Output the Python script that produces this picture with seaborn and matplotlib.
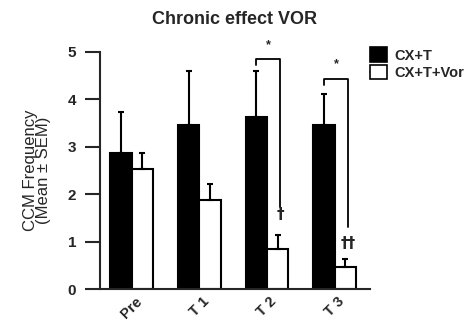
import numpy as np
import pandas as pd
import seaborn as sns
import matplotlib.pyplot as plt
from matplotlib.patches import Patch

# --- Data ---
timepoints = ['Pre', 'T 1', 'T 2', 'T 3']
groups = ['CX+T', 'CX+T+Vor']
mean_cxt = [2.87, 3.45, 3.63, 3.46]
sem_cxt = [0.87, 1.15, 0.96, 0.66]
mean_vor = [2.54, 1.88, 0.85, 0.46]
sem_vor = [0.32, 0.34, 0.29, 0.18]

# significance brackets: (timepoint index, bracket height, left drop, right drop, star y, symbol, symbol y)
BRACKETS = [
    (2, 4.85, 4.72, 1.73, 5.15, '\u2020', 1.57),
    (3, 4.43, 4.30, 1.31, 4.74, '\u2020\u2020', 0.97),
]

sns.set_style('ticks')
plt.rcParams['font.family'] = ['Liberation Sans', 'DejaVu Sans']

df = pd.DataFrame({
    'timepoint': timepoints * 2,
    'group': [groups[0]] * 4 + [groups[1]] * 4,
    'mean': mean_cxt + mean_vor,
    'sem': sem_cxt + sem_vor,
})

fig = plt.figure(figsize=(4.67, 3.27), dpi=100)
ax = fig.add_axes([0.214, 0.116, 0.578, 0.725])

sns.barplot(data=df, x='timepoint', y='mean', hue='group', order=timepoints,
            hue_order=groups, palette=['black', 'white'], edgecolor='black',
            linewidth=1.5, width=0.63, errorbar=None, legend=False, ax=ax)

# upper-only SEM bars, placed at the bar centres seaborn produced
bars = [p for p in ax.patches if p.get_height() > 0]
bars = sorted(bars, key=lambda p: p.get_x())
for p in bars:
    xc = p.get_x() + p.get_width() / 2
    h = p.get_height()
    row = df[np.isclose(df['mean'], h)].iloc[0]
    ax.errorbar(xc, h, yerr=[[0], [row['sem']]], color='black', elinewidth=1.5,
                capsize=2.5, capthick=1.5, zorder=1)

# significance annotations
bw = bars[0].get_width()
for idx, hy, ly, ry, sy, sym, symy in BRACKETS:
    xl = idx - bw / 2
    xr = idx + bw / 2 + 0.04
    ax.plot([xl, xl, xr, xr], [ly, hy, hy, ry], color='black', lw=1.3, clip_on=False)
    ax.text((xl + xr) / 2, sy, '*', ha='center', va='center', fontsize=9,
            fontweight='bold', clip_on=False)
    ax.text(xr, symy, sym, ha='center', va='center', fontsize=11,
            fontweight='bold', family='DejaVu Sans')

ax.set_xlim(-0.47, 3.52)
ax.set_ylim(0, 5)
ax.set_yticks([0, 1, 2, 3, 4, 5])
ax.set_xlabel('')
ax.set_ylabel('CCM Frequency\n(Mean \u00b1 SEM)', fontsize=12, linespacing=0.85, labelpad=12)
ax.set_title('Chronic effect VOR', fontsize=13, fontweight='bold', pad=20)

sns.despine(ax=ax)
ax.spines['left'].set_linewidth(1.5)
ax.spines['bottom'].set_linewidth(1.5)
ax.tick_params(axis='y', length=11, width=1.5, labelsize=11, pad=6)
ax.tick_params(axis='x', length=0, labelsize=10.5, pad=4)
for lab in ax.get_yticklabels():
    lab.set_fontweight('bold')
for lab in ax.get_xticklabels():
    lab.set_fontweight('bold')
    lab.set_rotation(45)
    lab.set_ha('center')

handles = [Patch(facecolor='black', edgecolor='black', linewidth=1.2, label=groups[0]),
           Patch(facecolor='white', edgecolor='black', linewidth=1.2, label=groups[1])]
fig.legend(handles=handles, loc='upper left', bbox_to_anchor=(0.765, 0.895),
           frameon=False, handlelength=1.15, handleheight=1.15, handletextpad=0.5,
           labelspacing=0.15, prop={'weight': 'bold', 'size': 10.5})

fig.savefig('out.png', dpi=100)
